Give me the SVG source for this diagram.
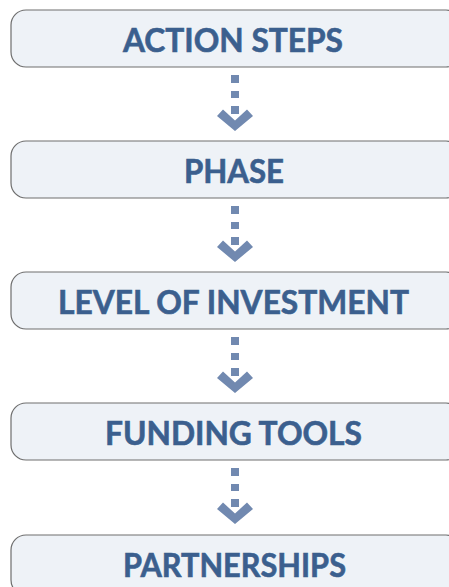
<svg xmlns="http://www.w3.org/2000/svg" width="449" height="587" viewBox="0 0 449 587">
<style>
.box{fill:#eef2f7;stroke:#6e6e6e;stroke-width:1.2}
.lbl{font-family:Lato,"Open Sans",sans-serif;font-weight:bold;font-size:32px;fill:#3b5f8e;stroke:#3b5f8e;stroke-width:0.6;text-anchor:middle}
.dash{fill:#7189b0}
</style>
<defs>
<g id="arr" class="dash">
<rect x="231" y="75" width="8" height="8"/>
<rect x="231" y="91" width="8" height="7"/>
<rect x="231" y="106" width="8" height="8"/>
<polygon points="217,116 223,109.5 235,120.5 247,109.5 253,116 235,131"/>
</g>
</defs>
<rect width="449" height="587" fill="#fff"/>
<g id="connectors">
<use href="#arr"/>
<use href="#arr" y="131"/>
<use href="#arr" y="262"/>
<use href="#arr" y="393"/>
</g>
<g id="n1"><rect class="box" x="11" y="10" width="450" height="57" rx="15"/><text class="lbl" x="233" y="52" textLength="220" lengthAdjust="spacingAndGlyphs">ACTION STEPS</text></g>
<g id="n2"><rect class="box" x="11" y="141" width="450" height="57" rx="15"/><text class="lbl" x="234" y="183" textLength="100" lengthAdjust="spacingAndGlyphs">PHASE</text></g>
<g id="n3"><rect class="box" x="11" y="272" width="450" height="57" rx="15"/><text class="lbl" x="233.5" y="314" textLength="351" lengthAdjust="spacingAndGlyphs">LEVEL OF INVESTMENT</text></g>
<g id="n4"><rect class="box" x="11" y="403" width="450" height="57" rx="15"/><text class="lbl" x="233.5" y="445" textLength="257" lengthAdjust="spacingAndGlyphs">FUNDING TOOLS</text></g>
<g id="n5"><rect class="box" x="11" y="535" width="450" height="60" rx="15"/><text class="lbl" x="234.5" y="577" textLength="223" lengthAdjust="spacingAndGlyphs">PARTNERSHIPS</text></g>
</svg>
